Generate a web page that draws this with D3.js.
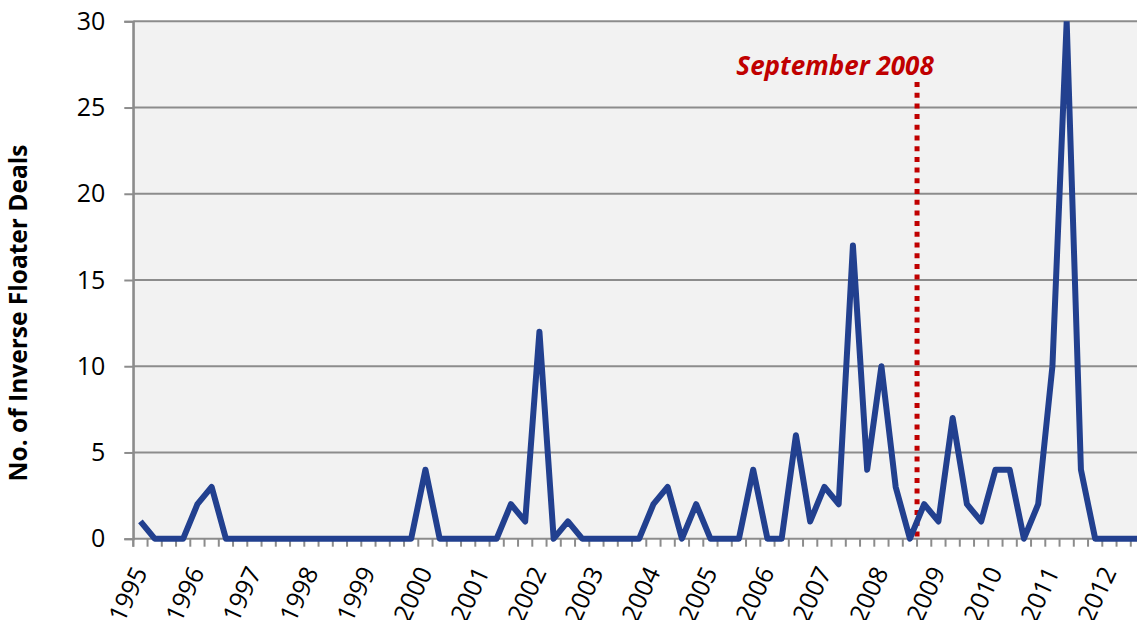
<!DOCTYPE html>
<html>
<head>
<meta charset="utf-8">
<script src="https://cdn.jsdelivr.net/npm/d3@7"></script>
<style>
  body { margin: 0; background: #fff; }
  svg { display: block; font-family: "Open Sans", sans-serif; }
</style>
</head>
<body>
<div id="chart"></div>
<script>
// quarterly data, 1995 Q1 .. 2012 Q3
const years = d3.range(1995, 2013);
const quarters = [];
years.forEach(y => [1, 2, 3, 4].forEach(q => quarters.push(y + "Q" + q)));
quarters.splice(71); // last visible quarter is 2012Q3

const deals = [
  1, 0, 0, 0,   2, 3, 0, 0,   0, 0, 0, 0,   0, 0, 0, 0,
  0, 0, 0, 0,   4, 0, 0, 0,   0, 0, 2, 1,  12, 0, 1, 0,
  0, 0, 0, 0,   2, 3, 0, 2,   0, 0, 0, 4,   0, 0, 6, 1,
  3, 2, 17, 4, 10, 3, 0, 2,   1, 7, 2, 1,   4, 4, 0, 2,
  10, 30, 4, 0,  0, 0, 0
];
const yTicks = [0, 5, 10, 15, 20, 25, 30];
const eventQuarter = "2008Q3";
const eventLabel = "September 2008";
const yTitle = "No. of Inverse Floater Deals";

const W = 1137, H = 620;
const margin = { top: 21.3, left: 133.3 };
const step = 14.25;
const plotBottom = 538.7;

const svg = d3.select("#chart").append("svg")
  .attr("width", W)
  .attr("height", H);

const x = d3.scaleBand()
  .domain(quarters)
  .range([margin.left, margin.left + quarters.length * step])
  .padding(0);

const y = d3.scaleLinear()
  .domain([0, 30])
  .range([plotBottom, margin.top]);

// line is clipped at the top of the plot area
svg.append("clipPath")
  .attr("id", "clip")
  .append("rect")
  .attr("x", margin.left)
  .attr("y", margin.top)
  .attr("width", W - margin.left)
  .attr("height", H - margin.top);

// plot background
svg.append("rect")
  .attr("x", margin.left)
  .attr("y", margin.top)
  .attr("width", W - margin.left)
  .attr("height", plotBottom - margin.top)
  .attr("fill", "#f2f2f2");

// y axis
const yAxis = svg.append("g")
  .attr("transform", "translate(" + margin.left + ",0)")
  .call(d3.axisLeft(y).tickValues(yTicks).tickSize(9).tickPadding(19));
yAxis.attr("font-family", null).attr("font-size", null);
yAxis.select(".domain").attr("stroke", "#8c8c8c").attr("stroke-width", 2);
yAxis.selectAll(".tick line").attr("stroke", "#8c8c8c").attr("stroke-width", 2);
yAxis.selectAll(".tick text")
  .attr("fill", "#000")
  .style("font-size", "25px");

// gridlines
svg.append("g")
  .selectAll("line")
  .data(yTicks)
  .enter()
  .append("line")
  .attr("x1", margin.left)
  .attr("x2", W)
  .attr("y1", d => y(d))
  .attr("y2", d => y(d))
  .attr("stroke", "#8c8c8c")
  .attr("stroke-width", 2);

// x tick marks at quarter boundaries
const bounds = quarters.map(q => x(q)).concat([x(quarters[quarters.length - 1]) + step]);
svg.append("g")
  .selectAll("line")
  .data(bounds)
  .enter()
  .append("line")
  .attr("x1", d => d)
  .attr("x2", d => d)
  .attr("y1", plotBottom)
  .attr("y2", plotBottom + 8)
  .attr("stroke", "#8c8c8c")
  .attr("stroke-width", 2);

// year labels on Q1
svg.append("g")
  .selectAll("text")
  .data(quarters.filter(q => q.endsWith("Q1")))
  .enter()
  .append("text")
  .attr("transform", d => "translate(" + (x(d) + x.bandwidth() / 2 + 7.5) + ",572) rotate(-65)")
  .attr("text-anchor", "end")
  .style("font-size", "25px")
  .text(d => d.slice(0, 4));

// left axis line on top of the fill
svg.append("line")
  .attr("x1", margin.left).attr("x2", margin.left)
  .attr("y1", margin.top).attr("y2", plotBottom + 8)
  .attr("stroke", "#8c8c8c")
  .attr("stroke-width", 2);

// September 2008 marker
const ex = x(eventQuarter) + step;
svg.append("line")
  .attr("x1", ex).attr("x2", ex)
  .attr("y1", 82).attr("y2", plotBottom)
  .attr("stroke", "#c00000")
  .attr("stroke-width", 5)
  .attr("stroke-dasharray", "5,5.7");

svg.append("text")
  .attr("x", ex - 82)
  .attr("y", 75)
  .attr("text-anchor", "middle")
  .attr("fill", "#c00000")
  .style("font-size", "26px")
  .style("font-weight", "bold")
  .style("font-style", "italic")
  .text(eventLabel);

// data line
const line = d3.line()
  .x((d, i) => x(quarters[i]) + x.bandwidth() / 2)
  .y(d => y(d));

svg.append("path")
  .datum(deals)
  .attr("clip-path", "url(#clip)")
  .attr("d", line)
  .attr("fill", "none")
  .attr("stroke", "#22408f")
  .attr("stroke-width", 6)
  .attr("stroke-linejoin", "round");

// y axis title
svg.append("text")
  .attr("transform", "translate(27,313) rotate(-90)")
  .attr("text-anchor", "middle")
  .style("font-size", "24.5px")
  .style("font-weight", "bold")
  .text(yTitle);
</script>
</body>
</html>
